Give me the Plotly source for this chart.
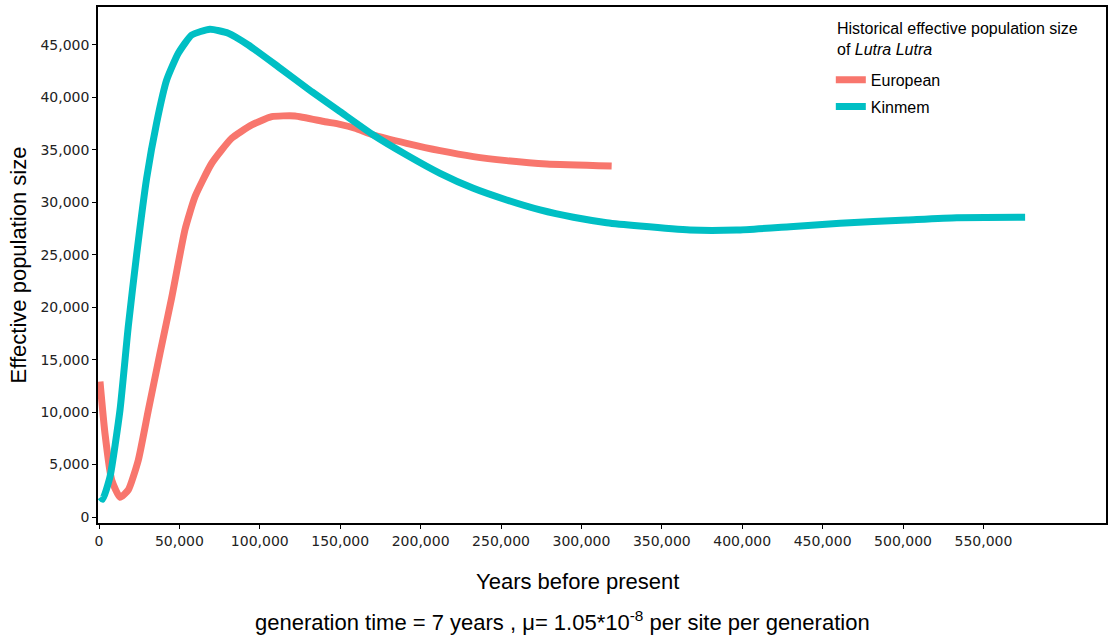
import plotly.graph_objects as go

# European (red) PSMC curve: years before present, effective population size
eu_years = [620, 3700, 7900, 13060, 18200, 24450, 30700, 37930, 45200, 53500,
            59700, 70100, 82500, 95000, 107400, 121900, 140500, 149900, 159200, 170600,
            191300, 212100, 232800, 253500, 278400, 318800]
eu_ne = [12900, 7980, 3530, 1880, 2570, 5430, 10200, 15600, 20900, 27400,
         30520, 33710, 36090, 37360, 38150, 38220, 37670, 37420, 37050, 36400,
         35610, 34910, 34340, 33960, 33640, 33450]

# Kinmem (teal) PSMC curve
km_years = [1000, 2300, 6840, 13060, 18200, 23400, 29650, 35880, 42100, 49300, 57640,
            69000, 80400, 92850, 111500, 132300, 149900, 170600, 191300, 212100, 232800,
            253500, 274300, 295000, 315700, 336400, 367500, 396600, 429700, 460800,
            502300, 533400, 575900]
km_ne = [1900, 1690, 3840, 10200, 18140, 25000, 32300, 37600, 41650, 44190, 45930,
         46480, 46100, 44980, 42900, 40530, 38630, 36400, 34500, 32750, 31320,
         30210, 29260, 28560, 28050, 27730, 27350, 27350, 27670, 27990,
         28300, 28520, 28560]

x_ticks = [0, 50000, 100000, 150000, 200000, 250000, 300000, 350000, 400000, 450000, 500000, 550000]
y_ticks = [0, 5000, 10000, 15000, 20000, 25000, 30000, 35000, 40000, 45000]

fig = go.Figure()
fig.add_trace(go.Scatter(x=eu_years, y=eu_ne, mode="lines", name="European", legendgroup="eu",
                         line=dict(color="#F8766D", width=7, shape="spline", smoothing=0.5)))
fig.add_trace(go.Scatter(x=km_years, y=km_ne, mode="lines", name="Kinmem", legendgroup="km",
                         line=dict(color="#00BFC4", width=7, shape="spline", smoothing=0.5)))

axis_common = dict(showgrid=False, zeroline=False, showline=True, linecolor="black",
                   linewidth=1.5, mirror=True, ticks="outside", ticklen=4, tickwidth=1,
                   tickcolor="black", automargin=False,
                   tickfont=dict(family="DejaVu Sans", size=14, color="#222222"))

fig.update_xaxes(range=[-620, 626200], tickvals=x_ticks,
                 ticktext=[f"{v:,}" for v in x_ticks],
                 **axis_common)
fig.update_yaxes(range=[-570, 48600], tickvals=y_ticks,
                 ticktext=[f"{v:,}" for v in y_ticks],
                 title=dict(text="Effective population size", standoff=8,
                            font=dict(family="Liberation Sans", size=22, color="black")),
                 **axis_common)

# x-axis title
fig.add_annotation(text="Years before present",
                   xref="paper", yref="paper", x=0.4755, y=-0.1143, xanchor="center", yanchor="middle",
                   showarrow=False, font=dict(family="Liberation Sans", size=22, color="black"))

fig.add_annotation(text="generation time = 7 years , μ= 1.05*10<sup>-8</sup> per site per generation",
                   xref="paper", yref="paper", x=0.461, y=-0.19, xanchor="center", yanchor="middle",
                   showarrow=False, font=dict(family="Liberation Sans", size=22, color="black"))

# legend title drawn as a text block above the legend entries
fig.add_annotation(text="Historical effective population size<br>of <i>Lutra Lutra</i>",
                   xref="paper", yref="paper", x=0.731, y=0.979, xanchor="left", yanchor="top",
                   align="left", showarrow=False,
                   font=dict(family="Liberation Sans", size=16, color="black"))

fig.update_layout(
    width=1109, height=637,
    margin=dict(l=98, r=3, t=7, b=114),
    plot_bgcolor="white", paper_bgcolor="white",
    legend=dict(
        font=dict(family="Liberation Sans", size=16, color="black"),
        x=0.727, y=0.892, xanchor="left", yanchor="top",
        tracegroupgap=3,
        bgcolor="rgba(0,0,0,0)",
    ),
)

fig.write_html("out.html", config={"displayModeBar": False},
               post_script="document.body.style.margin='0';")
